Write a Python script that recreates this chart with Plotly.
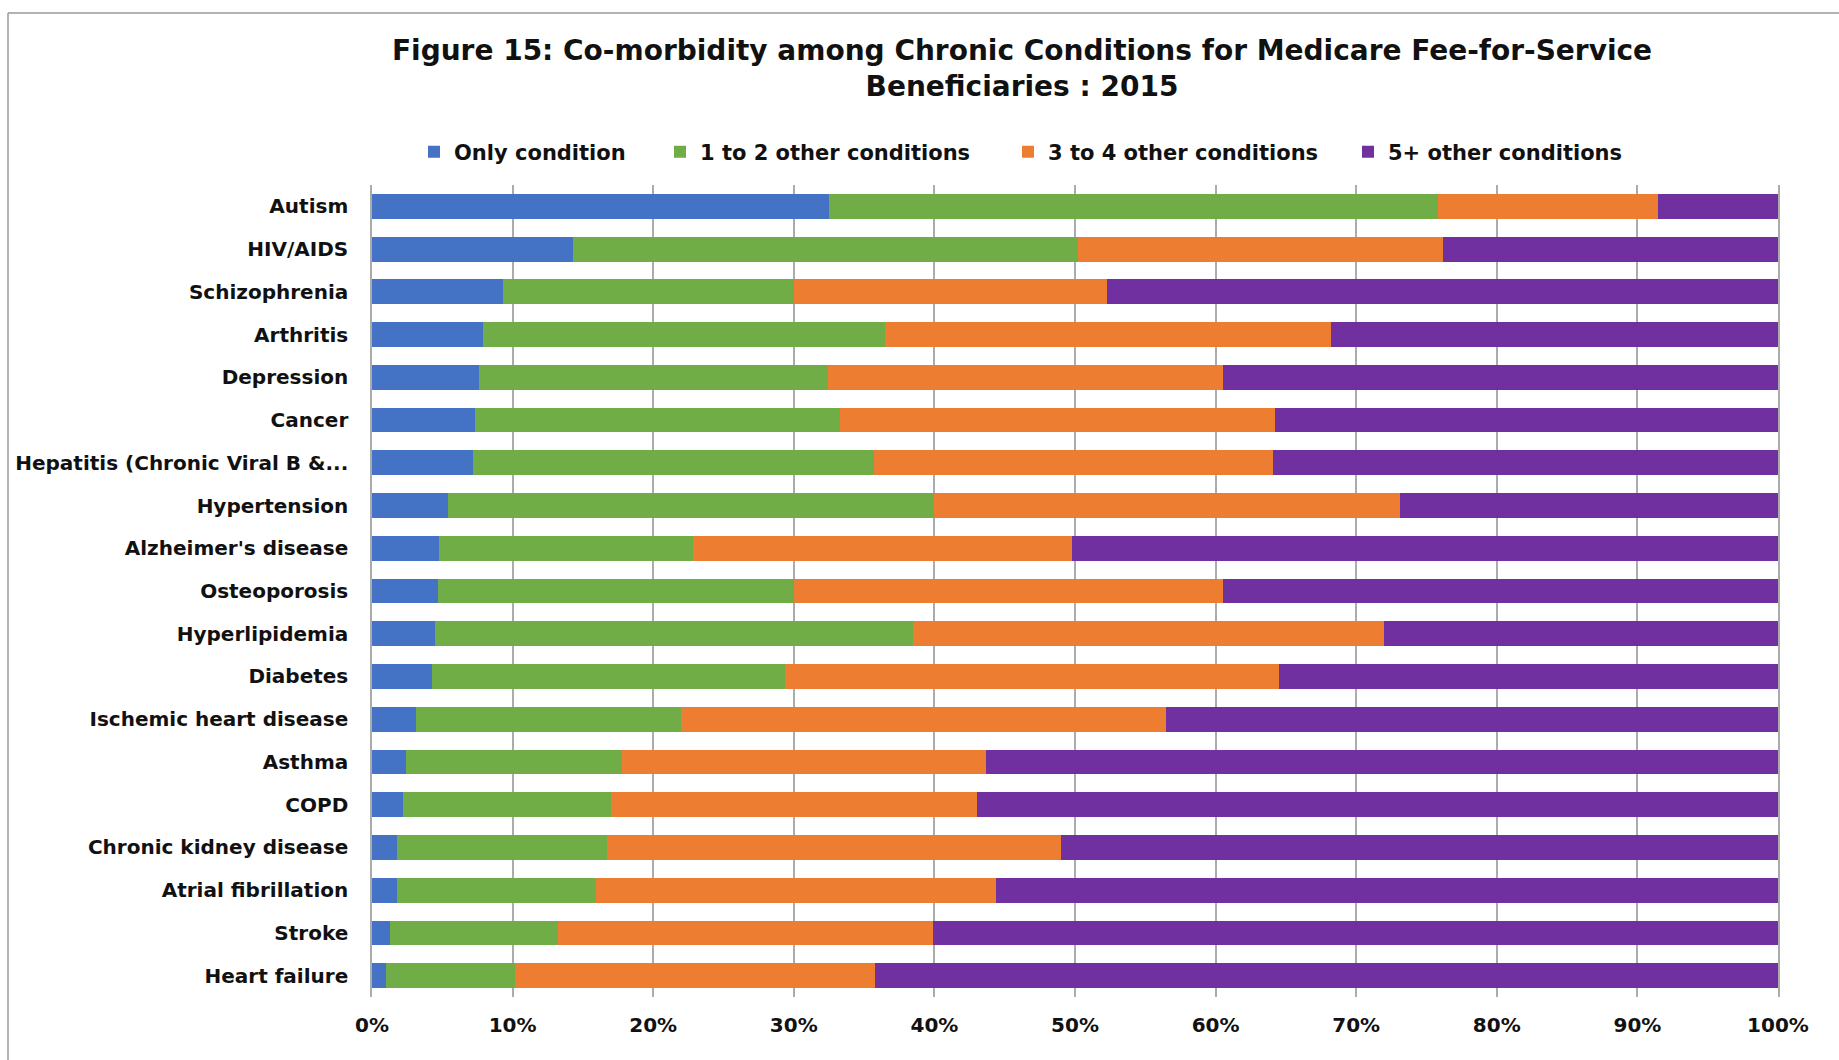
import plotly.graph_objects as go

categories = [
    "Autism", "HIV/AIDS", "Schizophrenia", "Arthritis", "Depression", "Cancer",
    "Hepatitis (Chronic Viral B &...", "Hypertension", "Alzheimer's disease",
    "Osteoporosis", "Hyperlipidemia", "Diabetes", "Ischemic heart disease",
    "Asthma", "COPD", "Chronic kidney disease", "Atrial fibrillation",
    "Stroke", "Heart failure",
]

only_condition = [32.5, 14.3, 9.3, 7.9, 7.6, 7.3, 7.2, 5.4, 4.8, 4.7, 4.5, 4.3, 3.1, 2.4, 2.2, 1.8, 1.8, 1.3, 1.0]
one_to_two = [43.3, 35.9, 20.7, 28.6, 24.8, 26.0, 28.5, 34.6, 18.0, 25.3, 34.0, 25.1, 18.9, 15.4, 14.8, 14.9, 14.1, 11.9, 9.2]
three_to_four = [15.7, 26.0, 22.3, 31.7, 28.1, 30.9, 28.4, 33.1, 27.0, 30.5, 33.5, 35.1, 34.5, 25.9, 26.0, 32.3, 28.5, 26.7, 25.6]
five_plus = [8.5, 23.8, 47.7, 31.8, 39.5, 35.8, 35.9, 26.9, 50.2, 39.5, 28.0, 35.5, 43.5, 56.3, 57.0, 51.0, 55.6, 60.1, 64.2]

series_names = ["Only condition", "1 to 2 other conditions", "3 to 4 other conditions", "5+ other conditions"]
series_values = [only_condition, one_to_two, three_to_four, five_plus]
series_colors = ["#4472C4", "#70AD47", "#ED7D31", "#7030A0"]
legend_ids = ["legend", "legend2", "legend3", "legend4"]

FONT = "DejaVu Sans"

fig = go.Figure()
for name, vals, col, lg in zip(series_names, series_values, series_colors, legend_ids):
    fig.add_trace(go.Bar(
        y=categories, x=vals, name=name, orientation="h",
        marker=dict(color=col, line=dict(width=0)),
        legend=lg,
    ))

# plot area in pixels
L, R, T, B = 372, 1778, 185, 997
W, H = 1839, 1060
pw, ph = R - L, B - T

def px_x(p):
    return (p - L) / pw

def px_y(p):
    return (B - p) / ph

text_starts = [458, 704, 1052, 1392]
legend_cfg = {}
for lg, ts in zip(legend_ids, text_starts):
    legend_cfg[lg] = dict(
        x=px_x(ts - 44), xanchor="left", y=px_y(152), yanchor="middle",
        orientation="h", bgcolor="rgba(0,0,0,0)",
        font=dict(family=FONT, size=21, color="#111111", weight="bold"),
        itemwidth=30,
    )

fig.update_layout(
    width=W, height=H, autosize=False,
    margin=dict(l=L, r=W - R, t=T, b=H - B),
    paper_bgcolor="white", plot_bgcolor="white",
    barmode="stack", bargap=0.42,
    title=dict(
        text="Figure 15: Co-morbidity among Chronic Conditions for Medicare Fee-for-Service<br>Beneficiaries : 2015",
        font=dict(family=FONT, size=28, color="#111111", weight="bold"),
        x=1022 / W, xanchor="center", xref="container",
        y=1 - 60 / H, yanchor="middle", yref="container",
    ),
    showlegend=True,
    **legend_cfg,
)

fig.update_xaxes(
    range=[0, 100], dtick=10, ticksuffix="%",
    showgrid=True, gridcolor="#ababab", gridwidth=1.5,
    zeroline=False, showline=False, ticks="",
    tickfont=dict(family=FONT, size=20, color="#111111", weight="bold"),
    ticklabelstandoff=14,
)
fig.update_yaxes(
    autorange="reversed",
    showline=True, mirror=True, linecolor="#ababab", linewidth=1.5,
    showgrid=False, ticks="",
    tickfont=dict(family=FONT, size=20, color="#111111", weight="bold"),
    ticklabelstandoff=18,
)

# outer chart border (top and left edges visible)
border_col = "#9a9a9a"
fig.add_shape(type="line", xref="paper", yref="paper",
              x0=px_x(8), x1=px_x(W + 5), y0=px_y(13), y1=px_y(13),
              line=dict(color=border_col, width=1.5))
fig.add_shape(type="line", xref="paper", yref="paper",
              x0=px_x(8), x1=px_x(8), y0=px_y(13), y1=px_y(H + 5),
              line=dict(color=border_col, width=1.5))

fig.write_html("out.html")
